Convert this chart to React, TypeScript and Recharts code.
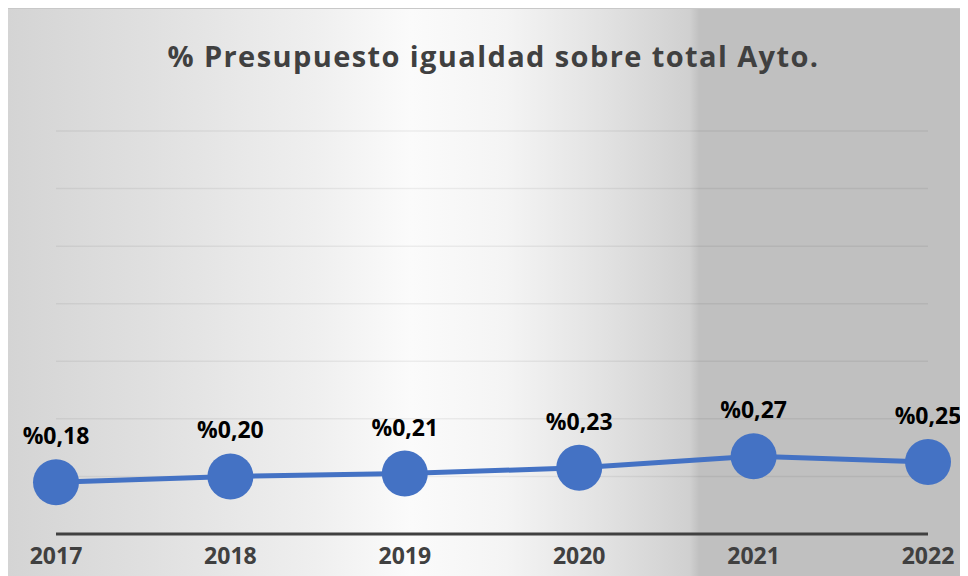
import * as React from 'react';
import { LineChart, Line, XAxis, YAxis, CartesianGrid, LabelList } from 'recharts';

const YEARS = ['2017', '2018', '2019', '2020', '2021', '2022'];
const PERCENT = [0.18, 0.2, 0.21, 0.23, 0.27, 0.25];
const Y_TICKS = [0, 0.2, 0.4, 0.6, 0.8, 1.0, 1.2, 1.4];

const data = YEARS.map((year, i) => ({ year, value: PERCENT[i] }));

const FONT = '"Open Sans", "Noto Sans", sans-serif';

const fmt = (v: any) => '%' + Number(v).toFixed(2).replace('.', ',');

export default function App() {
  return (
    <div
      style={{
        position: 'relative',
        width: 961,
        height: 568,
        marginLeft: -1,
        borderTop: '1px solid #c8c8c8',
        borderLeft: '1px solid #c8c8c8',
        boxSizing: 'border-box',
        background:
          'linear-gradient(90deg, #d4d4d4 0%, #e0e0e0 15%, #efefef 32%, #fbfbfb 42%, #f4f4f4 52%, #e2e2e2 62%, #d0d0d0 71%, #c0c0c0 72%, #c0c0c0 100%)',
        fontFamily: FONT,
      }}
    >
      <div
        style={{
          position: 'absolute',
          top: 27,
          left: 0,
          width: 961,
          textAlign: 'center',
          fontSize: 29,
          letterSpacing: 1.4,
          fontWeight: 700,
          color: '#404040',
          paddingLeft: 10,
          boxSizing: 'border-box',
        }}
      >
        % Presupuesto igualdad sobre total Ayto.
      </div>
      <LineChart
        width={960}
        height={567}
        data={data}
        margin={{ top: 122, right: 40, bottom: 2, left: 48 }}
        style={{ position: 'absolute', top: 0, left: 0 }}
      >
        <CartesianGrid vertical={false} stroke="#000" strokeOpacity={0.06} strokeWidth={1.5} />
        <YAxis hide domain={[0, 1.4]} ticks={Y_TICKS} />
        <XAxis
          dataKey="year"
          height={40}
          axisLine={{ stroke: '#404040', strokeWidth: 3 }}
          tickLine={false}
          tickMargin={8}
          tick={{ fill: '#404040', fontSize: 23, fontWeight: 700, fontFamily: FONT }}
        />
        <Line
          type="linear"
          dataKey="value"
          stroke="#4472C4"
          strokeWidth={5}
          dot={{ r: 23, fill: '#4472C4', stroke: '#4472C4', strokeWidth: 0 }}
          isAnimationActive={false}
        >
          <LabelList
            dataKey="value"
            position="top"
            offset={38}
            formatter={fmt}
            style={{ fill: '#000', fontSize: 23, fontWeight: 700, fontFamily: FONT }}
          />
        </Line>
      </LineChart>
    </div>
  );
}
